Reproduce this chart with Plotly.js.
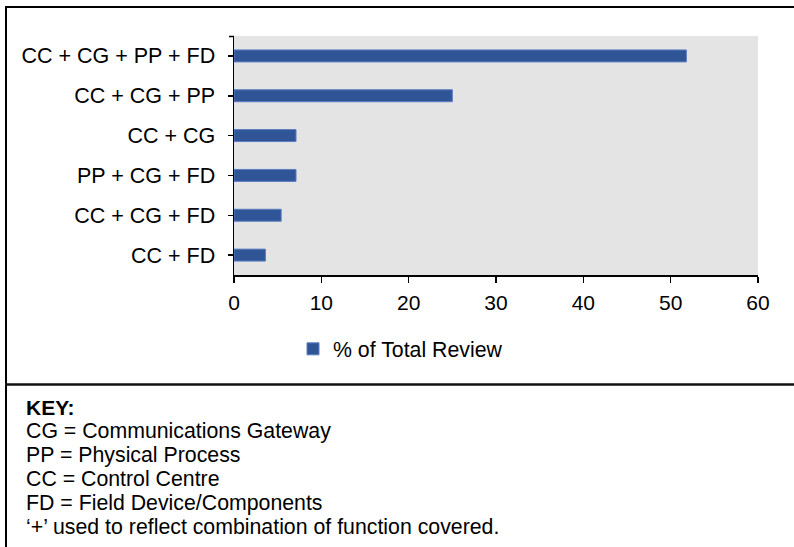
<!DOCTYPE html>
<html>
<head>
<meta charset="utf-8">
<script src="https://cdn.plot.ly/plotly-3.0.1.min.js"></script>
<style>html,body{margin:0;padding:0;background:#fff;}#chart{width:794px;height:547px;}</style>
</head>
<body>
<div id="chart"></div>
<script>
// Data (top to bottom as shown)
const categories = ['CC + CG + PP + FD', 'CC + CG + PP', 'CC + CG', 'PP + CG + FD', 'CC + CG + FD', 'CC + FD'];
const pctOfTotalReview = [51.8, 25.0, 7.1, 7.1, 5.4, 3.6];
const seriesName = '% of Total Review';
const xTicks = [0, 10, 20, 30, 40, 50, 60];
const keyTitle = 'KEY:';
const keyLines = [
  'CG = Communications Gateway',
  'PP = Physical Process',
  'CC = Control Centre',
  'FD = Field Device/Components',
  '\u2018+\u2019 used to reflect combination of function covered.'
];

const W = 794, H = 547;
const px = v => v / W;
const py = v => 1 - v / H;
const FONT = 'Liberation Sans, Arial, sans-serif';

const trace = {
  type: 'bar',
  orientation: 'h',
  y: categories,
  x: pctOfTotalReview,
  name: seriesName,
  marker: {color: '#2F5597', line: {color: '#5A7EC2', width: 1}},
  showlegend: true,
  hoverinfo: 'x+y'
};

const annotations = [];
annotations.push({
  xref: 'paper', yref: 'paper', x: px(24), y: py(407), xanchor: 'left', yanchor: 'middle',
  text: '<b>' + keyTitle + '</b>', showarrow: false, font: {family: FONT, size: 21, color: '#000'}
});
keyLines.forEach((t, i) => {
  annotations.push({
    xref: 'paper', yref: 'paper', x: px(24), y: py(431 + 24 * i), xanchor: 'left', yanchor: 'middle',
    text: t, showarrow: false, font: {family: FONT, size: 21.3, color: '#000'}
  });
});

const lineStyle = {color: '#000', width: 2};
const shapes = [
  {type: 'line', xref: 'paper', yref: 'paper', x0: px(6), x1: px(6), y0: py(6), y1: py(547), line: lineStyle},
  {type: 'line', xref: 'paper', yref: 'paper', x0: px(5), x1: px(794), y0: py(7), y1: py(7), line: lineStyle},
  {type: 'line', xref: 'paper', yref: 'paper', x0: px(5), x1: px(794), y0: py(384.5), y1: py(384.5), line: {color: '#111', width: 2.5}},
  // small end tick at top of category axis
  {type: 'line', xref: 'paper', yref: 'paper', x0: px(229), x1: px(234), y0: py(36.5), y1: py(36.5), line: {color: '#000', width: 1.5}}
];

const layout = {
  width: W, height: H,
  margin: {l: 0, r: 0, t: 0, b: 0, pad: 0},
  paper_bgcolor: '#fff',
  plot_bgcolor: '#E4E4E4',
  font: {family: FONT, size: 20, color: '#000'},
  bargap: 0.7,
  xaxis: {
    domain: [px(234), px(758)],
    range: [0, 60],
    tickvals: xTicks,
    ticktext: xTicks.map(String),
    ticks: 'outside', ticklen: 6, tickwidth: 1.5, tickcolor: '#000',
    showline: true, linecolor: '#000', linewidth: 1.5,
    showgrid: false, zeroline: false,
    ticklabelstandoff: 2,
    tickfont: {family: FONT, size: 21, color: '#000'},
    fixedrange: true
  },
  yaxis: {
    domain: [1 - 275 / H, 1 - 36 / H],
    autorange: 'reversed',
    type: 'category',
    ticks: 'outside', ticklen: 5, tickwidth: 1.5, tickcolor: '#000',
    showline: true, linecolor: '#000', linewidth: 1.5,
    showgrid: false, zeroline: false,
    ticklabelstandoff: 8,
    tickfont: {family: FONT, size: 21.5, color: '#000'},
    fixedrange: true
  },
  showlegend: true,
  legend: {
    orientation: 'h',
    x: px(293), xanchor: 'left',
    y: py(349), yanchor: 'middle',
    bgcolor: 'rgba(0,0,0,0)',
    itemwidth: 30,
    font: {family: FONT, size: 21.3, color: '#000'}
  },
  shapes: shapes,
  annotations: annotations
};

Plotly.newPlot('chart', [trace], layout, {displayModeBar: false, staticPlot: true});
</script>
</body>
</html>
